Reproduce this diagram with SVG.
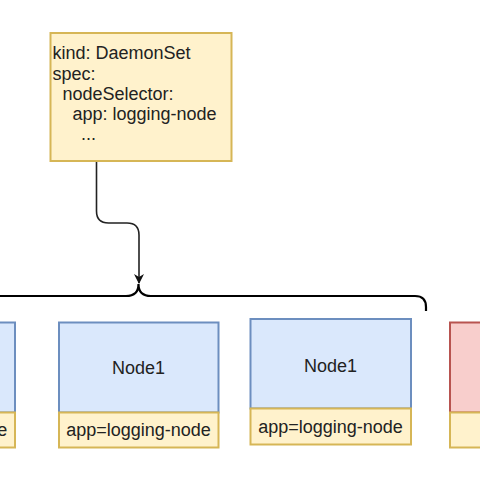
<svg xmlns="http://www.w3.org/2000/svg" width="480" height="480" viewBox="0 0 480 480">
<style>
text{font-family:"Liberation Sans",Arial,Helvetica,sans-serif;font-size:18px;fill:#222}
.blue{fill:#dae8fc;stroke:#6c8ebf;stroke-width:2}
.yel{fill:#fff2cc;stroke:#d6b656;stroke-width:2}
.red{fill:#f8cecc;stroke:#b85450;stroke-width:2}
.mid{text-anchor:middle}
.conn{fill:none;stroke:#222;stroke-width:1.6}
.brace{fill:none;stroke:#000;stroke-width:2.2}
</style>
<defs>
<marker id="arr" viewBox="0 0 10 10" refX="9" refY="5" markerWidth="10" markerHeight="10" markerUnits="userSpaceOnUse" orient="auto">
<path d="M0 0 L10 5 L0 10 L3 5 Z" fill="#111"/>
</marker>
</defs>
<rect width="480" height="480" fill="#fff"/>
<g id="spec">
<rect class="yel" x="50.5" y="33" width="181" height="128"/>
<text x="52.5" y="59">kind: DaemonSet</text>
<text x="52.5" y="79.5">spec:</text>
<text x="62.5" y="100">nodeSelector:</text>
<text x="72.5" y="120">app: logging-node</text>
<text x="81" y="140">...</text>
</g>
<g id="connectors">
<path class="conn" d="M96.5 162 V211 Q96.5 223 108.5 223 H127 Q139 223 139 235 V283" marker-end="url(#arr)"/>
<path class="brace" d="M0 296 H126 Q138.5 296 138.5 284 Q138.5 296 151 296 H415 Q426 296 426 307 V311"/>
</g>
<g id="node0">
<rect class="blue" x="-145" y="322.5" width="160" height="90"/>
<rect class="yel" x="-145" y="412.5" width="160" height="35"/>
<text class="mid" x="-65" y="436">app=logging-node</text>
</g>
<g id="node1">
<rect class="blue" x="59" y="322.5" width="159.5" height="90"/>
<rect class="yel" x="59" y="412.5" width="159.5" height="35"/>
<text class="mid" x="138.5" y="374">Node1</text>
<text class="mid" x="138.5" y="436">app=logging-node</text>
</g>
<g id="node2">
<rect class="blue" x="250.5" y="319" width="160.5" height="89.5"/>
<rect class="yel" x="250.5" y="408.5" width="160.5" height="36"/>
<text class="mid" x="330.5" y="372">Node1</text>
<text class="mid" x="330.5" y="433">app=logging-node</text>
</g>
<g id="node3">
<rect class="red" x="450" y="322.5" width="160" height="90"/>
<rect class="yel" x="450" y="412.5" width="160" height="35"/>
</g>
</svg>
